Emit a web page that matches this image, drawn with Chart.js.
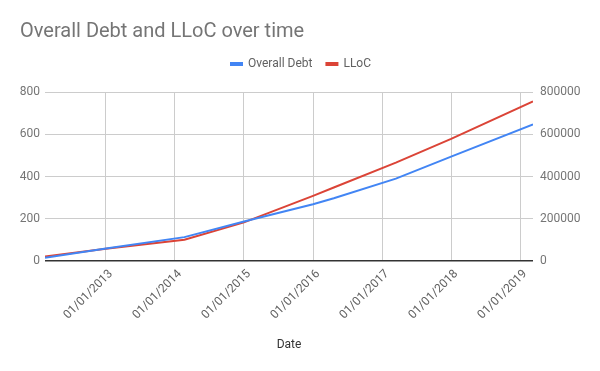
<!DOCTYPE html>
<html>
<head>
<meta charset="utf-8">
<script src="https://cdn.jsdelivr.net/npm/chart.js@4/dist/chart.umd.min.js"></script>
<style>
  html, body { margin: 0; padding: 0; background: #fff; }
  #wrap { width: 600px; height: 371px; }
</style>
</head>
<body>
<div id="wrap"><canvas id="chart" width="600" height="371"></canvas></div>
<script>
// data
const dates = ['2012-02-13', '2013-01-01', '2014-02-20', '2015-01-01', '2016-01-01',
               '2016-04-20', '2017-03-15', '2018-01-01', '2019-03-10'];
const overallDebt = [15, 59, 113, 187, 269, 297, 390, 494, 647];
const lloc = [21000, 58000, 101000, 183000, 308000, 348000, 466000, 578000, 755000];
const tickYears = [2013, 2014, 2015, 2016, 2017, 2018, 2019];
const debtTicks = [0, 200, 400, 600, 800];
const llocTicks = [0, 200000, 400000, 600000, 800000];

// date string -> decimal year, so a plain linear scale can be used
function toYear(s) {
    const d = new Date(s + 'T00:00:00Z');
    const y = d.getUTCFullYear();
    const start = Date.UTC(y, 0, 1);
    const end = Date.UTC(y + 1, 0, 1);
    return y + (d.getTime() - start) / (end - start);
}

const FONT = 'Roboto, "Noto Sans", sans-serif';

// more room under the legend before the plot starts
const legendGap = {
    id: 'legendGap',
    beforeInit(chart) {
        const fit = chart.legend.fit;
        chart.legend.fit = function () {
            fit.bind(chart.legend)();
            this.height += 12;
        };
    }
};

new Chart(document.getElementById('chart'), {
    type: 'line',
    data: {
        datasets: [
            {
                label: 'Overall Debt',
                data: dates.map((d, i) => ({ x: toYear(d), y: overallDebt[i] })),
                borderColor: '#4285f4',
                backgroundColor: '#4285f4',
                borderWidth: 2,
                pointRadius: 0,
                tension: 0,
                yAxisID: 'y'
            },
            {
                label: 'LLoC',
                data: dates.map((d, i) => ({ x: toYear(d), y: lloc[i] })),
                borderColor: '#db4437',
                backgroundColor: '#db4437',
                borderWidth: 2,
                pointRadius: 0,
                tension: 0,
                yAxisID: 'y1'
            }
        ]
    },
    options: {
        responsive: false,
        animation: false,
        layout: { padding: { left: 20, right: 18, top: 0, bottom: 15 } },
        plugins: {
            title: {
                display: true,
                text: 'Overall Debt and LLoC over time',
                align: 'start',
                color: '#757575',
                font: { family: FONT, size: 20, weight: 'normal' },
                padding: { top: 20, bottom: 0 }
            },
            legend: {
                position: 'top',
                labels: {
                    color: '#616161',
                    font: { family: FONT, size: 12 },
                    boxWidth: 11,
                    boxHeight: 2,
                    padding: 14
                }
            },
            tooltip: { enabled: false }
        },
        scales: {
            x: {
                type: 'linear',
                min: toYear(dates[0]),
                max: toYear(dates[dates.length - 1]),
                afterBuildTicks: s => { s.ticks = tickYears.map(v => ({ value: v })); },
                afterFit: s => { s.height = 95; },
                border: { display: false },
                grid: { color: '#cccccc', drawTicks: false },
                ticks: {
                    color: '#616161',
                    font: { family: FONT, size: 12 },
                    minRotation: 45,
                    maxRotation: 45,
                    padding: 6,
                    labelOffset: 5,
                    callback: v => '01/01/' + v
                },
                title: {
                    display: true,
                    text: 'Date',
                    color: '#333333',
                    font: { family: FONT, size: 12 },
                    padding: { top: 4, bottom: 4 }
                }
            },
            y: {
                position: 'left',
                min: debtTicks[0],
                max: debtTicks[debtTicks.length - 1],
                afterBuildTicks: s => { s.ticks = debtTicks.map(v => ({ value: v })); },
                afterFit: s => { s.width = 25; },
                border: { display: false },
                grid: {
                    drawTicks: false,
                    color: c => c.tick && c.tick.value === 0 ? '#333333' : '#cccccc',
                    lineWidth: c => c.tick && c.tick.value === 0 ? 1.5 : 1
                },
                ticks: {
                    color: '#757575',
                    font: { family: FONT, size: 12 },
                    padding: 5
                }
            },
            y1: {
                position: 'right',
                min: llocTicks[0],
                max: llocTicks[llocTicks.length - 1],
                afterBuildTicks: s => { s.ticks = llocTicks.map(v => ({ value: v })); },
                afterFit: s => { s.width = 49; },
                border: { display: false },
                grid: { display: false, drawTicks: false },
                ticks: {
                    color: '#757575',
                    font: { family: FONT, size: 12 },
                    padding: 7,
                    callback: v => String(v)
                }
            }
        }
    },
    plugins: [legendGap]
});
</script>
</body>
</html>
